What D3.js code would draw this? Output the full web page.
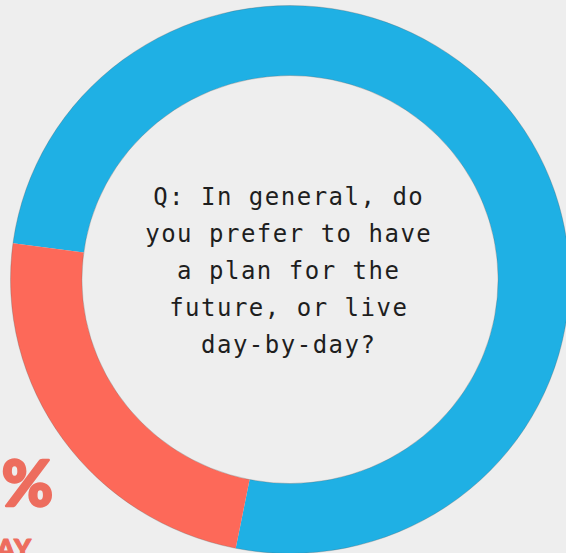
<!DOCTYPE html>
<html>
<head>
<meta charset="utf-8">
<script src="https://cdn.jsdelivr.net/npm/d3@7"></script>
<style>
  html, body { margin: 0; padding: 0; background: #eeeeee; overflow: hidden; }
  svg { display: block; }
</style>
</head>
<body>
<svg id="chart" width="566" height="553"></svg>
<script>
// Survey answers (percent of respondents)
const answers = ["Have a plan for the future", "Live day-by-day"];
const shares = [76, 24];
const colors = ["#1fb0e4", "#fd6959"];

// Question shown in the hole of the donut, one entry per line
const questionLines = [
  "Q: In general, do",
  "you prefer to have",
  "a plan for the",
  "future, or live",
  "day-by-day?"
];

// Callout for the smaller slice
const calloutNumber = String(shares[1]);
const calloutUnit = "%";
const calloutLabel = "DAY-BY-DAY";

const W = 566, H = 553;
const cx = 290, cy = 279.5;
const outerR = 274, innerR = 204;
const startDeg = -82.4;

const svg = d3.select("#chart");
svg.append("rect").attr("width", W).attr("height", H).attr("fill", "#eeeeee");

const pie = d3.pie()
  .sort(null)
  .value(d => d)
  .startAngle(startDeg * Math.PI / 180)
  .endAngle(startDeg * Math.PI / 180 + 2 * Math.PI);

const arc = d3.arc().innerRadius(innerR).outerRadius(outerR);

const color = d3.scaleOrdinal().domain(answers).range(colors);

// Ring, drawn slightly wider than tall
const ring = svg.append("g")
  .attr("transform", `translate(${cx},${cy}) scale(1.02,1)`);

ring.selectAll("path.slice")
  .data(pie(shares))
  .join("path")
  .attr("class", "slice")
  .attr("d", arc)
  .attr("fill", (d, i) => color(answers[i]));

// faint edge line around the ring
ring.selectAll("circle.edge")
  .data([outerR, innerR])
  .join("circle")
  .attr("class", "edge")
  .attr("r", d => d)
  .attr("fill", "none")
  .attr("stroke", "#555")
  .attr("stroke-opacity", 0.35)
  .attr("stroke-width", 0.8)
  .attr("vector-effect", "non-scaling-stroke");

// Question text
const lineHeight = 37;
const firstBaseline = 205;
svg.append("g")
  .selectAll("text")
  .data(questionLines)
  .join("text")
  .attr("x", 288.75)
  .attr("y", (d, i) => firstBaseline + i * lineHeight)
  .attr("text-anchor", "middle")
  .attr("font-family", "'DejaVu Sans Mono', monospace")
  .attr("font-size", 24)
  .attr("letter-spacing", 1.5)
  .attr("fill", "#1e1e1e")
  .text(d => d);

// Callout for the day-by-day share
const callout = svg.append("text")
  .attr("x", 53)
  .attr("y", 506)
  .attr("text-anchor", "end")
  .attr("font-family", "Lato, 'Open Sans', sans-serif")
  .attr("font-weight", 900)
  .attr("font-size", 62)
  .attr("fill", "#ed6d5e")
  .attr("stroke", "#ed6d5e")
  .attr("stroke-width", 2.5)
  .attr("stroke-linejoin", "round");
callout.append("tspan").text(calloutNumber);
callout.append("tspan").attr("dx", 10).text(calloutUnit);

svg.append("text")
  .attr("x", 32)
  .attr("y", 558)
  .attr("text-anchor", "end")
  .attr("font-family", "Lato, 'Open Sans', sans-serif")
  .attr("font-weight", 900)
  .attr("font-size", 26)
  .attr("letter-spacing", 1)
  .attr("fill", "#ed6d5e")
  .attr("stroke", "#ed6d5e")
  .attr("stroke-width", 1.2)
  .attr("stroke-linejoin", "round")
  .text(calloutLabel);
</script>
</body>
</html>
